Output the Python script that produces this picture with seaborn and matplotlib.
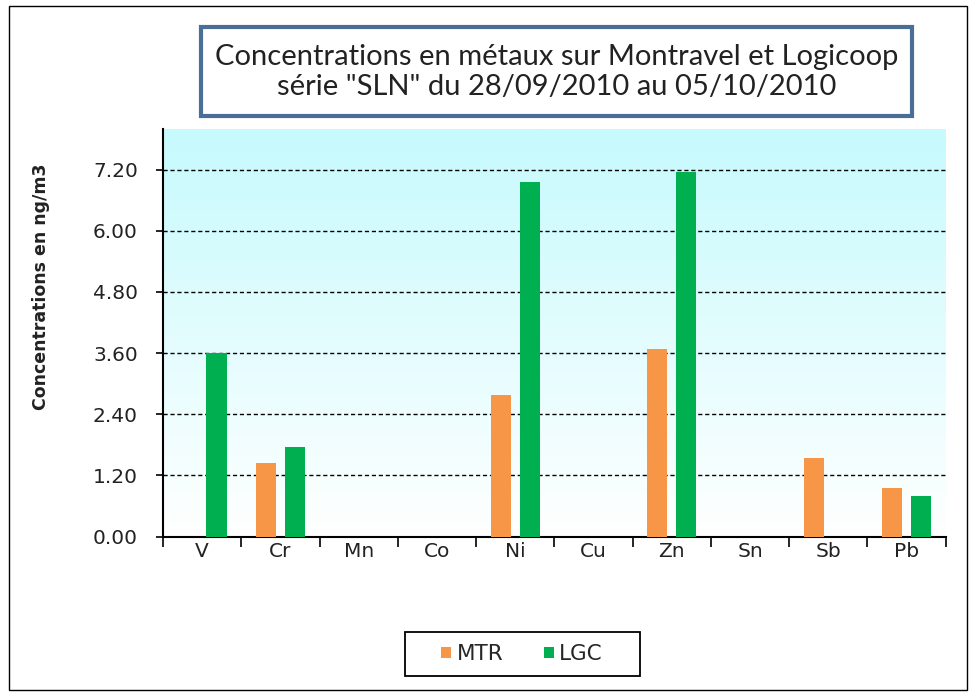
import numpy as np
import pandas as pd
import matplotlib
matplotlib.use("Agg")
import matplotlib.pyplot as plt
import seaborn as sns
from matplotlib.colors import LinearSegmentedColormap
from matplotlib.patches import Rectangle, FancyBboxPatch

# ── Data ─────────────────────────────────────────────────────────────────────
metals = ["V", "Cr", "Mn", "Co", "Ni", "Cu", "Zn", "Sn", "Sb", "Pb"]
mtr = [np.nan, 1.44, np.nan, np.nan, 2.77, np.nan, 3.68, np.nan, 1.55, 0.95]
lgc = [3.60, 1.76, np.nan, np.nan, 6.96, np.nan, 7.15, np.nan, np.nan, 0.79]
series = ["MTR", "LGC"]
colors = ["#F79646", "#00B050"]
yticks = [0.0, 1.2, 2.4, 3.6, 4.8, 6.0, 7.2]

df = pd.DataFrame({"metal": metals * 2,
                   "site": ["MTR"] * len(metals) + ["LGC"] * len(metals),
                   "value": mtr + lgc})

# ── Figure ───────────────────────────────────────────────────────────────────
sns.set_theme(style="white")
plt.rcParams["font.family"] = ["DejaVu Sans"]

fig = plt.figure(figsize=(9.76, 6.96), dpi=100)
ax = fig.add_axes([0.167, 0.229, 0.802, 0.586])

sns.barplot(data=df, x="metal", y="value", hue="site", order=metals,
            hue_order=series, palette=colors, width=0.74, gap=0.3,
            saturation=1, linewidth=0, ax=ax, legend=True, zorder=3)

# light cyan gradient background of the plot area
cmap = LinearSegmentedColormap.from_list("bg", ["#FFFFFF", "#C6FAFD"])
grad = np.linspace(0, 1, 256).reshape(-1, 1)
ax.imshow(grad, cmap=cmap, origin="lower", extent=[0, 1, 0, 1],
          transform=ax.transAxes, aspect="auto", zorder=0)

ax.set_xlim(-0.5, len(metals) - 0.5)
ax.set_ylim(0, 8.0)
ax.set_yticks(yticks)
ax.set_yticklabels([f"{v:.2f}" for v in yticks], fontsize=14.5, color="#222222")
ax.set_xticks(range(len(metals)))
ax.set_xticklabels(metals, fontsize=14.5, color="#222222")
ax.set_xticks(np.arange(-0.5, len(metals)), minor=True)
ax.tick_params(axis="x", which="major", length=0, pad=4)
ax.tick_params(axis="x", which="minor", length=7, width=1.2, color="black",
               direction="out", bottom=True)
ax.tick_params(axis="y", which="major", length=5, width=1.2, color="black",
               direction="out", left=True, pad=13)

ax.set_axisbelow(True)
ax.yaxis.grid(True, linestyle=(0, (3, 2)), color="black", linewidth=1)
ax.xaxis.grid(False)
for side in ["top", "right"]:
    ax.spines[side].set_visible(False)
for side in ["left", "bottom"]:
    ax.spines[side].set_color("black")
    ax.spines[side].set_linewidth(1.5)

ax.set_xlabel("")
ax.set_ylabel("Concentrations en ng/m3", fontsize=12.5, fontweight="bold",
              color="#222222")
ax.yaxis.set_label_coords(-0.144, 0.612)

# legend below the chart, with a wider hand-drawn frame
handles, labels = ax.get_legend_handles_labels()
ax.legend(handles, labels, loc="center", bbox_to_anchor=(0.535, 0.06),
          bbox_transform=fig.transFigure, ncol=2, frameon=False,
          fontsize=15.5, handlelength=0.45, handleheight=0.45,
          handletextpad=0.25, columnspacing=1.9, borderaxespad=0)
fig.patches.append(Rectangle((405 / 976, 1 - 676 / 696), 235 / 976, 44 / 696,
                             transform=fig.transFigure, fill=False,
                             edgecolor="black", linewidth=1.3))

# title box
fig.patches.append(FancyBboxPatch((0.206, 0.834), 0.728, 0.127,
                                  boxstyle="square,pad=0", transform=fig.transFigure,
                                  facecolor="white", edgecolor="#4A6E96",
                                  linewidth=3, zorder=5))
fig.text(0.570, 0.897,
         "Concentrations en métaux sur Montravel et Logicoop\n"
         "série \"SLN\" du 28/09/2010 au 05/10/2010",
         ha="center", va="center", fontsize=21, family=["Lato", "DejaVu Sans"],
         color="#222222", linespacing=1.2, zorder=6)

# outer frame
fig.patches.append(Rectangle((0.009, 0.009), 0.982, 0.982, transform=fig.transFigure,
                             fill=False, edgecolor="black", linewidth=1))

plt.savefig("out.png", dpi=100)
